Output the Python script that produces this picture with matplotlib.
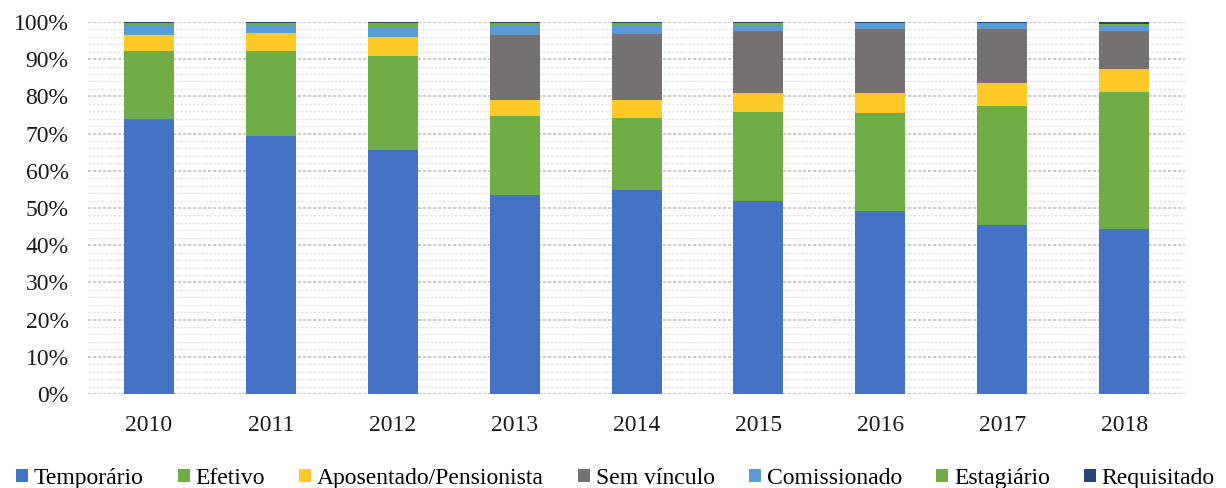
import numpy as np
import matplotlib
matplotlib.use('Agg')
import matplotlib.pyplot as plt
from matplotlib.ticker import MultipleLocator, PercentFormatter

# Share of each category per year (%)
years = ['2010', '2011', '2012', '2013', '2014', '2015', '2016', '2017', '2018']
temporario = [73.9, 69.4, 65.6, 53.5, 54.8, 52.0, 49.2, 45.4, 44.4]
efetivo = [18.4, 22.9, 25.3, 21.1, 19.5, 23.7, 26.2, 32.1, 36.7]
aposentado = [4.3, 4.6, 5.0, 4.4, 4.7, 5.1, 5.4, 6.2, 6.2]
sem_vinculo = [0.0, 0.0, 0.0, 17.6, 17.8, 16.8, 17.2, 14.3, 10.3]
comissionado = [2.5, 2.2, 2.8, 2.2, 2.3, 1.5, 1.6, 1.6, 1.4]
estagiario = [0.6, 0.5, 1.1, 0.9, 0.5, 0.5, 0.2, 0.2, 0.4]
requisitado = [0.3, 0.4, 0.2, 0.3, 0.4, 0.4, 0.2, 0.2, 0.6]

series = [
    ('Temporário', temporario, '#4472C4'),
    ('Efetivo', efetivo, '#70AD47'),
    ('Aposentado/Pensionista', aposentado, '#FFCA28'),
    ('Sem vínculo', sem_vinculo, '#767171'),
    ('Comissionado', comissionado, '#5B9BD5'),
    ('Estagiário', estagiario, '#70AD47'),
    ('Requisitado', requisitado, '#264478'),
]

plt.rcParams['font.family'] = ['Liberation Serif', 'DejaVu Serif']

fig = plt.figure(figsize=(12.26, 4.88), dpi=100)
ax = fig.add_axes([0.0718, 0.1926, 0.8948, 0.7624])

x = np.arange(len(years))
bottom = np.zeros(len(years))
for name, vals, color in series:
    vals = np.array(vals)
    ax.bar(x, vals, width=0.41, bottom=bottom, color=color, label=name,
           linewidth=0, zorder=3)
    bottom += vals

ax.set_xlim(-0.5, len(years) - 0.5)
ax.set_ylim(0, 100)
ax.set_xticks(x)
ax.set_xticklabels(years)
ax.yaxis.set_major_locator(MultipleLocator(10))
ax.yaxis.set_minor_locator(MultipleLocator(2))
ax.yaxis.set_major_formatter(PercentFormatter(decimals=0))
ax.tick_params(axis='both', which='both', length=0, labelsize=17, colors='#1a1a1a')
ax.tick_params(axis='x', pad=15)
ax.tick_params(axis='y', pad=14)

ax.grid(axis='y', which='major', color='#c4c4c4', linestyle=(0, (2, 1)), linewidth=1.2, zorder=0)
ax.grid(axis='y', which='minor', color='#e6e6e6', linestyle=(0, (2, 1)), linewidth=1.0, zorder=0)
for s in ax.spines.values():
    s.set_visible(False)

fig.legend(loc='center', bbox_to_anchor=(0.502, 0.02), ncol=7, frameon=False,
           fontsize=17, handlelength=0.5, handleheight=0.5, handletextpad=0.25,
           columnspacing=1.45)

fig.savefig('out.png', dpi=100)
